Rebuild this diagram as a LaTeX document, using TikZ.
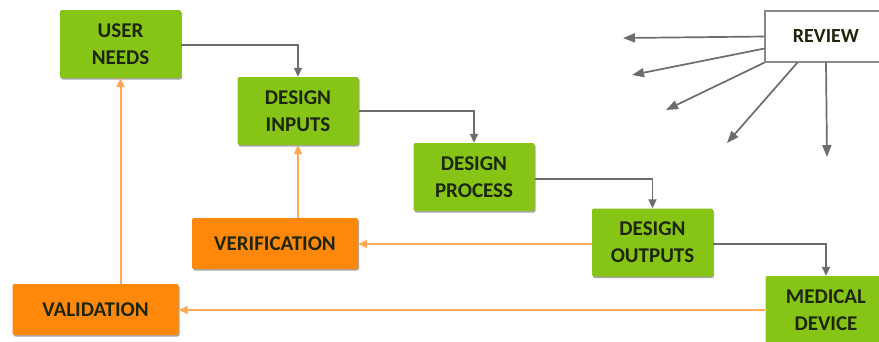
\documentclass[tikz,border=0pt]{standalone}
\usepackage{fontspec}
\setmainfont{Carlito}
\usetikzlibrary{arrows.meta,shadows}

\definecolor{boxgreen}{RGB}{134,196,22}
\definecolor{boxorange}{RGB}{255,136,10}
\definecolor{lineorange}{RGB}{255,168,88}
\definecolor{linegray}{RGB}{108,108,112}
\definecolor{labeltext}{RGB}{30,38,10}

\tikzset{
  box/.style={rectangle, rounded corners=2pt, inner sep=0pt, align=center,
    text=labeltext, font=\bfseries\fontsize{21}{27}\selectfont,
    drop shadow={shadow xshift=1pt, shadow yshift=-1.5pt, opacity=0.35, fill=black}},
  greenbox/.style={box, fill=boxgreen, minimum width=121pt, minimum height=68pt},
  orangebox/.style={box, fill=boxorange, minimum width=166pt, minimum height=51pt},
  reviewbox/.style={rectangle, draw=linegray!80, line width=1.2pt, fill=white,
    minimum width=122pt, minimum height=51pt, text=labeltext,
    font=\bfseries\fontsize{20}{26}\selectfont},
  flow/.style={draw=linegray, line width=1.8pt, -{Triangle[length=9pt,width=8pt]}},
  check/.style={draw=lineorange, line width=2pt, -{Triangle[length=9pt,width=8pt]}},
  fan/.style={draw=linegray, line width=1.7pt, -{Triangle[length=12pt,width=9pt]}}
}

\begin{document}
\begin{tikzpicture}[x=1pt,y=-1pt]
  \useasboundingbox (0,0) rectangle (879,341);
  \begin{scope}
    \clip (0,0) rectangle (879,341);

    % design chain
    \node[greenbox] (needs)   at (120.5,44)  {USER\\NEEDS};
    \node[greenbox] (inputs)  at (298,111)   {DESIGN\\INPUTS};
    \node[greenbox] (process) at (474,177)   {DESIGN\\PROCESS};
    \node[greenbox] (outputs) at (652.5,242.5) {DESIGN\\OUTPUTS};
    \node[greenbox] (device)  at (826,310)   {MEDICAL\\DEVICE};

    % checks
    \node[orangebox] (verif) at (275,243.5) {VERIFICATION};
    \node[orangebox] (valid) at (95.5,309.5) {VALIDATION};

    % review box and its fan of arrows
    \node[reviewbox] (review) at (826,36.5) {REVIEW};
    \coordinate (f1) at (623,38);
    \coordinate (f2) at (632,75);
    \coordinate (f3) at (666,110);
    \coordinate (f4) at (727,143);
    \coordinate (f5) at (827,157);

    \draw[fan] (review.west) -- (f1);
    \draw[fan] ([yshift=-12pt]review.west) -- (f2);
    \draw[fan] (review.south west) -- (f3);
    \draw[fan] ([xshift=33pt]review.south west) -- (f4);
    \draw[fan] (review.south) -- (f5);

    % forward flow
    \draw[flow] ([yshift=-1pt]needs.east) -| (inputs.north);
    \draw[flow] (inputs.east) -| (process.north);
    \draw[flow] ([yshift=-2pt]process.east) -| (outputs.north);
    \draw[flow] ([yshift=-1.5pt]outputs.east) -| (device.north);

    % feedback
    \draw[check] ([yshift=-1.5pt]outputs.west) -- ([yshift=-1.5pt]outputs.west -| verif.east);
    \draw[check] (device.west) -- (device.west -| valid.east);
    \draw[check] (inputs.south |- verif.north) -- (inputs.south);
    \draw[check] (needs.south |- valid.north) -- (needs.south);
  \end{scope}
\end{tikzpicture}
\end{document}
